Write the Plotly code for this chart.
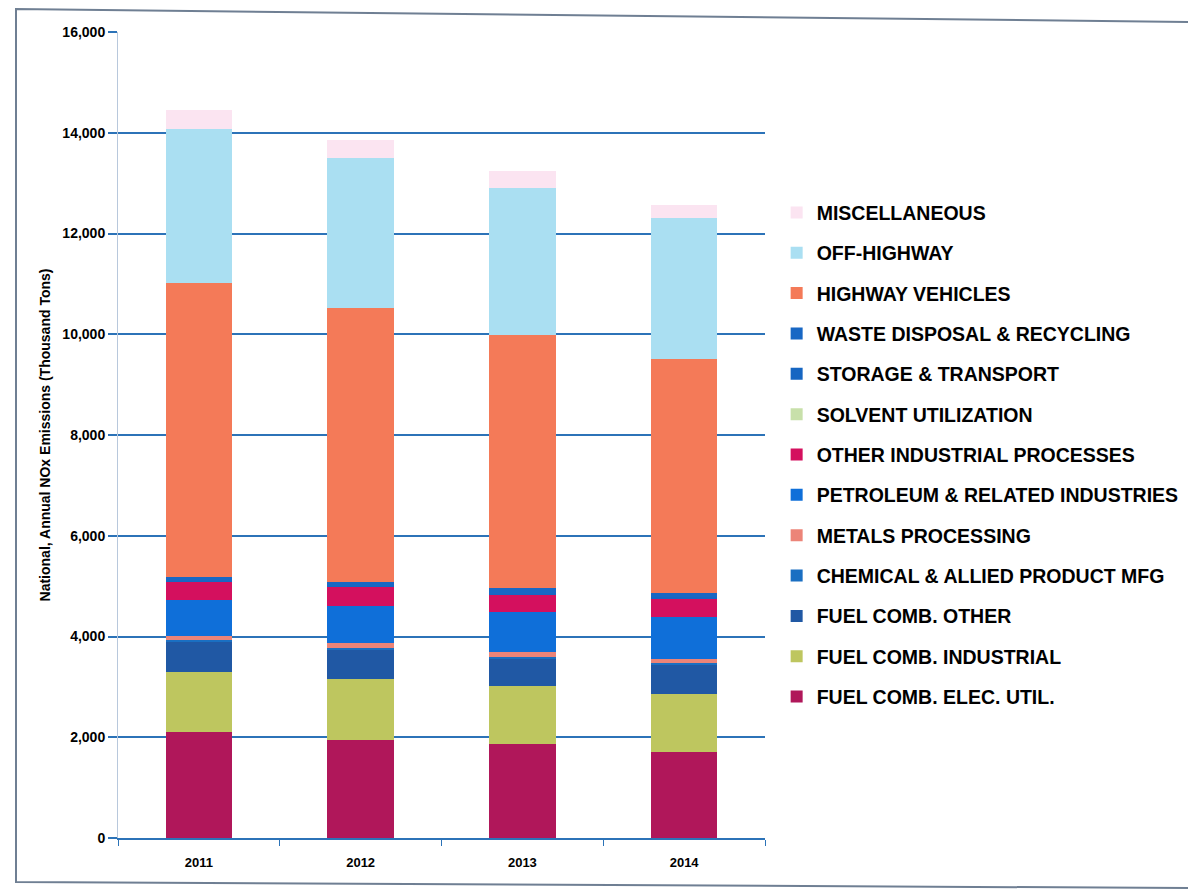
import plotly.graph_objects as go

# National annual NOx emissions by source category (thousand tons)
years = ["2011", "2012", "2013", "2014"]

fuel_comb_elec_util = [2100, 1950, 1860, 1700]
fuel_comb_industrial = [1200, 1200, 1160, 1160]
fuel_comb_other = [590, 590, 540, 580]
chemical_allied = [40, 40, 40, 40]
metals_processing = [80, 85, 100, 80]
petroleum_related = [710, 750, 790, 830]
other_industrial = [365, 370, 340, 365]
solvent_utilization = [3, 3, 3, 3]
storage_transport = [20, 20, 20, 20]
waste_disposal = [80, 80, 115, 80]
highway_vehicles = [5832, 5432, 5022, 4642]
off_highway = [3050, 2980, 2920, 2810]
miscellaneous = [390, 360, 340, 260]

y_ticks = [0, 2000, 4000, 6000, 8000, 10000, 12000, 14000, 16000]
y_tick_text = ["0", "2,000", "4,000", "6,000", "8,000", "10,000", "12,000", "14,000", "16,000"]

series = [
    ("FUEL COMB. ELEC. UTIL.", fuel_comb_elec_util, "#b0175a"),
    ("FUEL COMB. INDUSTRIAL", fuel_comb_industrial, "#bec65f"),
    ("FUEL COMB. OTHER", fuel_comb_other, "#2058a4"),
    ("CHEMICAL & ALLIED PRODUCT MFG", chemical_allied, "#1a6fc2"),
    ("METALS PROCESSING", metals_processing, "#ec8478"),
    ("PETROLEUM & RELATED INDUSTRIES", petroleum_related, "#0f6fd9"),
    ("OTHER INDUSTRIAL PROCESSES", other_industrial, "#d4105e"),
    ("SOLVENT UTILIZATION", solvent_utilization, "#c8e0aa"),
    ("STORAGE & TRANSPORT", storage_transport, "#1666c2"),
    ("WASTE DISPOSAL & RECYCLING", waste_disposal, "#1867c4"),
    ("HIGHWAY VEHICLES", highway_vehicles, "#f47a58"),
    ("OFF-HIGHWAY", off_highway, "#aadff2"),
    ("MISCELLANEOUS", miscellaneous, "#fbe4f1"),
]

grid_blue = "#2c73b8"
font_family = "Liberation Sans, Arial, sans-serif"

fig = go.Figure()
n = len(series)
for i, (name, values, color) in enumerate(series):
    fig.add_trace(go.Bar(
        x=years,
        y=values,
        name=name,
        legendgroup=name,
        legendrank=n - i,  # top of the stack listed first
        marker=dict(color=color, line=dict(width=0)),
    ))

fig.update_layout(
    width=1188,
    height=890,
    barmode="stack",
    bargap=0.59,
    paper_bgcolor="white",
    plot_bgcolor="white",
    margin=dict(l=118, r=423, t=32, b=52, autoexpand=False),
    font=dict(family=font_family, color="black"),
    legend=dict(
        x=1.018,
        xanchor="left",
        y=0.80,
        yanchor="top",
        traceorder="grouped",
        tracegroupgap=12,
        font=dict(size=19.5, family=font_family, color="black", weight="bold"),
        bgcolor="rgba(0,0,0,0)",
        itemclick=False,
    ),
    xaxis=dict(
        type="category",
        showgrid=False,
        showline=True,
        linecolor=grid_blue,
        linewidth=1.5,
        ticks="outside",
        tickson="boundaries",
        ticklen=6,
        tickcolor=grid_blue,
        ticklabelstandoff=12,
        tickfont=dict(size=13, weight="bold"),
    ),
    yaxis=dict(
        range=[0, 16000],
        tickvals=y_ticks,
        ticktext=y_tick_text,
        showgrid=True,
        gridcolor=grid_blue,
        gridwidth=1.5,
        zeroline=False,
        showline=True,
        linecolor="#b8c8dc",
        linewidth=1,
        ticks="outside",
        ticklen=9,
        tickcolor=grid_blue,
        tickwidth=1.5,
        tickfont=dict(size=14, weight="bold"),
        title=dict(
            text="National, Annual NOx Emissions (Thousand Tons)",
            font=dict(size=14, weight="bold"),
            standoff=8,
        ),
    ),
)

# Outer frame around the chart
px_w, px_h = 647.0, 806.0


def px_to_paper(px, py):
    return (px - 118) / px_w, (838 - py) / px_h


x0, y0 = px_to_paper(16, 882)
x1, y1 = px_to_paper(16, 9)
x2, y2 = px_to_paper(1188, 22)
x3, y3 = px_to_paper(1188, 888)
fig.add_shape(
    type="path",
    xref="paper", yref="paper",
    path=f"M {x3} {y3} L {x0} {y0} L {x1} {y1} L {x2} {y2}",
    line=dict(color="#6f7f93", width=2),
)

fig.write_html("out.html")
